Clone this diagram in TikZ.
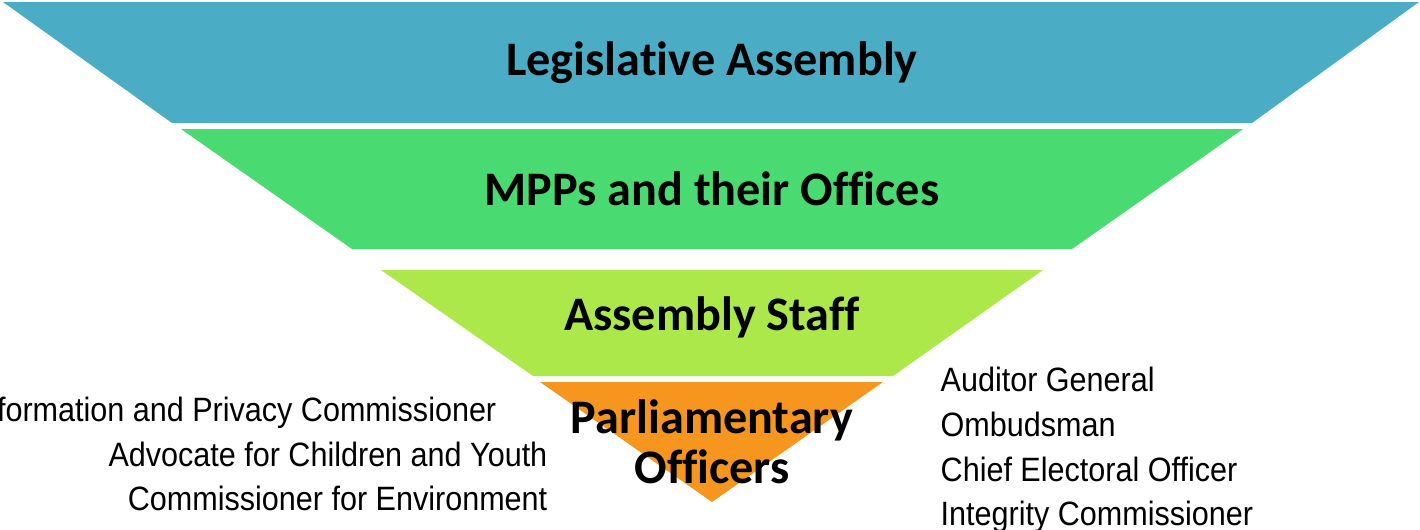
\documentclass[tikz,border=0pt]{standalone}
\usepackage{fontspec}
\setmainfont[Ligatures={NoCommon}]{Carlito}
\newfontfamily\narrowfont[FakeStretch=0.905]{Liberation Sans}
\usetikzlibrary{positioning}
\definecolor{colorLA}{HTML}{4BACC6}
\definecolor{colorMPP}{HTML}{4ADA72}
\definecolor{colorAS}{HTML}{ADE84A}
\definecolor{colorPO}{HTML}{F7961F}
\tikzset{
   title/.style={font=\bfseries\fontsize{13.7}{14.2}\selectfont,align=center,inner sep=0pt},
   side/.style={font=\narrowfont\fontsize{9.6}{12.7}\selectfont,inner sep=0pt},
}

\begin{document}
\begin{tikzpicture}[x=0.01cm,y=-0.01cm]
      \useasboundingbox (0,0) rectangle (1420,530);
      \clip (0,0) rectangle (1420,530);
      % funnel bands
      \fill[colorLA] (3,2) -- (1419,2) -- (1252,123) -- (172,123) -- cycle;
      \fill[colorMPP] (181,129) -- (1243,129) -- (1072,249) -- (352,249) -- cycle;
      \fill[colorAS] (381,270) -- (1043,270) -- (893,376) -- (533,376) -- cycle;
      \fill[colorPO] (540,382) -- (883,382) -- (712,502) -- cycle;
      % band titles
      \node[title] (la) at (712,63) {Legislative Assembly};
      \node[title] (mpp) at (712,189) {MPPs and their Offices};
      \node[title] (staff) at (712,317) {Assembly Staff};
      \node[title] (po) at (712,442) {Parliamentary\\Officers};
      % officers on either side
      \node[side,anchor=east,align=right] (left) at (548,454)
         {Information and Privacy Commissioner\hspace*{0.51cm}\\Advocate for Children and Youth\\Commissioner for Environment};
      \node[side,anchor=west,align=left] (right) at (940,450)
         {Auditor General\\Ombudsman\\Chief Electoral Officer\\Integrity Commissioner};
    \end{tikzpicture}
\end{document}
